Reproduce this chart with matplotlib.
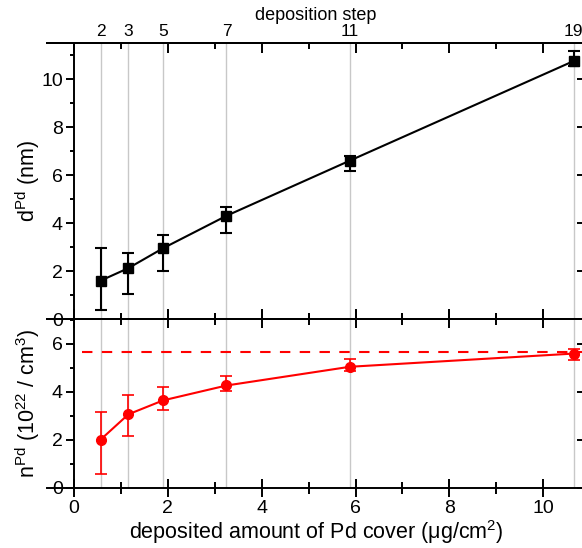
import matplotlib
matplotlib.use('Agg')
import matplotlib.pyplot as plt
from matplotlib.ticker import MultipleLocator

plt.rcParams['font.family'] = ['Liberation Sans', 'DejaVu Sans']
plt.rcParams['mathtext.fontset'] = 'custom'
plt.rcParams['mathtext.rm'] = 'Liberation Sans'
plt.rcParams['mathtext.it'] = 'Liberation Sans:italic'
plt.rcParams['font.size'] = 14

# deposited amount (ug/cm2) and deposition step
amount = [0.57, 1.16, 1.90, 3.25, 5.88, 10.65]
steps = ['2', '3', '5', '7', '11', '19']

# thickness d^Pd (nm) with lower / upper errors
d_pd = [1.60, 2.12, 2.95, 4.30, 6.60, 10.75]
d_lo = [1.22, 1.07, 0.97, 0.72, 0.42, 0.22]
d_hi = [1.35, 0.62, 0.53, 0.35, 0.20, 0.43]

# density n^Pd (10^22 / cm3) with lower / upper errors
n_pd = [2.02, 3.07, 3.65, 4.27, 5.05, 5.60]
n_lo = [1.42, 0.89, 0.41, 0.23, 0.18, 0.28]
n_hi = [1.16, 0.79, 0.55, 0.40, 0.33, 0.17]
n_bulk = 5.65

W, H = 582, 548
fig = plt.figure(figsize=(W / 100, H / 100), dpi=100)
left, width = 47 / W, 538 / W
ax1 = fig.add_axes([left, (H - 319) / H, width, 276 / H])
ax2 = fig.add_axes([left, (H - 488) / H, width, 169 / H])
ax2.set_facecolor('none')

for ax in (ax1, ax2):
    ax.set_xlim(-0.575, 10.89)
    ax.spines['left'].set_position(('data', 0))
    for s in ax.spines.values():
        s.set_linewidth(1.4)
    ax.xaxis.set_major_locator(MultipleLocator(2))
    ax.xaxis.set_minor_locator(MultipleLocator(1))
    ax.yaxis.set_major_locator(MultipleLocator(2))
    ax.yaxis.set_minor_locator(MultipleLocator(1))
    ax.tick_params(axis='y', which='both', direction='out', width=1.4, pad=2)
    ax.tick_params(axis='y', which='major', length=6)
    ax.tick_params(axis='y', which='minor', length=3)
    for xv in amount:
        ax.axvline(xv, color='#c8c8c8', lw=1, zorder=0)
    ry = ax.secondary_yaxis('right')
    ry.yaxis.set_major_locator(MultipleLocator(2))
    ry.tick_params(direction='in', length=6, width=1.4, labelright=False)
    ry.spines['right'].set_linewidth(1.4)

# top panel
ax1.set_ylim(0, 11.5)
ax1.tick_params(axis='x', which='both', direction='in', top=True, bottom=True,
                labelbottom=False, width=1.4)
ax1.tick_params(axis='x', which='major', length=7)
ax1.tick_params(axis='x', which='minor', length=4)
ax1.errorbar(amount, d_pd, yerr=[d_lo, d_hi], color='black', marker='s',
             markersize=6.5, lw=1.5, capsize=4, elinewidth=1.5, capthick=1.5)
ax1.set_ylabel(r'd$^{\mathrm{Pd}}$ (nm)', fontsize=15.5)
ax1.yaxis.set_label_coords(-0.009, 0.5)

top = ax1.secondary_xaxis('top')
top.set_xticks(amount)
top.set_xticklabels(steps, fontsize=12.5)
top.tick_params(length=0, pad=3)
top.spines['top'].set_linewidth(1.4)
top.set_xlabel('deposition step', fontsize=13, labelpad=3)

# bottom panel
ax2.set_ylim(0, 7.04)
ax2.tick_params(axis='x', which='both', direction='inout', top=True, bottom=True,
                width=1.4)
ax2.tick_params(axis='x', which='major', length=13, pad=2)
ax2.tick_params(axis='x', which='minor', length=8)
ax2.errorbar(amount, n_pd, yerr=[n_lo, n_hi], color='#ff0000', marker='o',
             markersize=7, lw=1.5, capsize=4, elinewidth=1.2, capthick=1.2)
ax2.axhline(n_bulk, xmin=(0.17 + 0.575) / (10.89 + 0.575), color='#ff0000',
            lw=1.5, ls=(0, (5, 4.5)))
ax2.set_ylabel(r'n$^{\mathrm{Pd}}$ (10$^{22}$ / cm$^{3}$)', fontsize=15.5)
ax2.yaxis.set_label_coords(-0.009, 0.5)
ax2.set_xlabel('deposited amount of Pd cover (μg/cm$^{2}$)', fontsize=15.5,
               labelpad=1)

fig.savefig('out.png', dpi=100)
